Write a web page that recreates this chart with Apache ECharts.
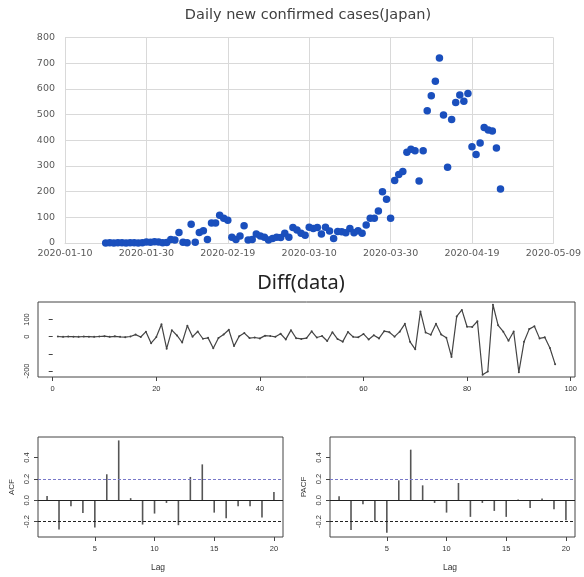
<!DOCTYPE html>
<html>
<head>
<meta charset="utf-8">
<script src="https://cdn.jsdelivr.net/npm/echarts@6.0.0/dist/echarts.min.js"></script>
<style>
  html, body { margin: 0; padding: 0; background: #fff; }
  #main { width: 584px; height: 577px; }
</style>
</head>
<body>
<div id="main"></div>
<script>
// daily new cases, Japan, one value per day from 2020-01-20
var cases = [0, 1, 0, 1, 1, 0, 1, 1, 0, 1,
  4, 3, 5, 4, 1, 2, 14, 12, 41, 3,
  1, 73, 3, 41, 48, 14, 78, 78, 108, 96,
  89, 22, 14, 27, 67, 12, 14, 35, 27, 22,
  12, 18, 22, 21, 38, 22, 60, 51, 38, 30,
  61, 56, 60, 35, 61, 47, 18, 45, 44, 40,
  56, 40, 48, 38, 70, 96, 96, 125, 200, 170,
  96, 243, 267, 278, 353, 365, 359, 241, 359, 515,
  573, 630, 720, 498, 295, 481, 547, 576, 552, 582,
  375, 345, 389, 450, 440, 436, 370, 210];

// first differences as plotted in the middle panel
var diffs = [1, -1, 1, 0, -1, 1, 0, -1, 1, 3,
  -1, 2, -1, -3, 1, 12, -2, 29, -38, -2,
  72, -70, 38, 7, -34, 64, 0, 30, -12, -7,
  -67, -8, 13, 40, -55, 2, 21, -8, -5, -10,
  6, 4, -1, 17, -16, 38, -9, -13, -8, 31,
  -5, 4, -25, 26, -14, -29, 27, -1, -4, 16,
  -16, 8, -10, 32, 26, 0, 29, 75, -30, -74,
  147, 24, 11, 75, 12, -6, -118, 118, 156, 58,
  57, 90, -222, -203, 186, 66, 29, -24, 30, -207,
  -30, 44, 61, -10, -4, -66, -160];

var acf = [0.04, -0.275, -0.056, -0.12, -0.256, 0.244, 0.562, 0.02, -0.228, -0.125,
  -0.025, -0.234, 0.219, 0.337, -0.116, -0.17, -0.056, -0.056, -0.163, 0.078];
var pacf = [0.037, -0.28, -0.037, -0.2, -0.306, 0.187, 0.475, 0.14, -0.025, -0.116,
  0.162, -0.156, -0.025, -0.1, -0.156, 0.006, -0.072, 0.016, -0.084, -0.187];

var dateTicks = ['2020-01-10', '2020-01-30', '2020-02-19', '2020-03-10', '2020-03-30', '2020-04-19', '2020-05-09'];
var firstDay = 10;   // 2020-01-20 is 10 days after 2020-01-10
var ci = 0.2;

var chart = echarts.init(document.getElementById('main'));

var scatterData = cases.map(function (v, i) { return [firstDay + i, v]; });
var diffData = diffs.map(function (v, i) { return [i + 1, v]; });
var acfData = acf.map(function (v, i) { return [i + 1, v]; });
var pacfData = pacf.map(function (v, i) { return [i + 1, v]; });

var rFont = 'Liberation Sans';
var topFont = 'DejaVu Sans';
var frame = '#444';

function rAxisX(grid, min, max, ticks) {
  return {
    type: 'value', gridIndex: grid, min: min, max: max,
    axisLine: { show: false, onZero: false },
    axisTick: { show: true, length: 4, customValues: ticks, lineStyle: { color: frame } },
    axisLabel: { customValues: ticks, fontSize: 7.5, color: '#333', margin: 8, fontFamily: rFont },
    splitLine: { show: false }
  };
}
function rAxisY(grid, min, max, ticks, labels, fmt) {
  return {
    type: 'value', gridIndex: grid, min: min, max: max,
    axisLine: { show: false },
    axisTick: { show: true, length: 4, customValues: ticks, lineStyle: { color: frame } },
    axisLabel: { customValues: labels, fontSize: 7.5, color: '#333', rotate: 90, margin: 7,
      fontFamily: rFont, formatter: fmt },
    splitLine: { show: false }
  };
}
function corrSeries(x, y, data) {
  return {
    type: 'bar', xAxisIndex: x, yAxisIndex: y, data: data, barWidth: 1.6,
    itemStyle: { color: '#555' }, silent: true,
    markLine: {
      silent: true, symbol: 'none', label: { show: false },
      data: [
        { yAxis: 0, lineStyle: { color: '#222', width: 1.2, type: 'solid' } },
        { yAxis: ci, lineStyle: { color: '#7878c8', width: 1, type: [3, 2] } },
        { yAxis: -ci, lineStyle: { color: '#222', width: 1, type: [3, 2] } }
      ]
    }
  };
}
var corrFmt = function (v) { return v.toFixed(1); };

var option = {
  animation: false,
  backgroundColor: '#fff',
  graphic: [
    { type: 'text', x: 308, y: 15, style: { text: 'Daily new confirmed cases(Japan)', fontSize: 14.5,
      fill: '#404040', align: 'center', verticalAlign: 'middle', fontFamily: topFont } },
    { type: 'text', x: 301, y: 283, style: { text: 'Diff(data)', fontSize: 20,
      fill: '#222', align: 'center', verticalAlign: 'middle', fontFamily: 'Noto Sans' } },
    { type: 'text', x: 158, y: 568, style: { text: 'Lag', fontSize: 8.5, fill: '#333',
      align: 'center', verticalAlign: 'middle', fontFamily: rFont } },
    { type: 'text', x: 450, y: 568, style: { text: 'Lag', fontSize: 8.5, fill: '#333',
      align: 'center', verticalAlign: 'middle', fontFamily: rFont } },
    { type: 'text', x: 12, y: 487, rotation: Math.PI / 2, style: { text: 'ACF', fontSize: 8, fill: '#333',
      align: 'center', verticalAlign: 'middle', fontFamily: rFont } },
    { type: 'text', x: 304, y: 487, rotation: Math.PI / 2, style: { text: 'PACF', fontSize: 8, fill: '#333',
      align: 'center', verticalAlign: 'middle', fontFamily: rFont } }
  ],
  grid: [
    { left: 65, top: 37.5, width: 490, height: 205.5, containLabel: false },
    { left: 38, top: 302, width: 537, height: 75, show: true, borderColor: frame, borderWidth: 1 },
    { left: 38, top: 437, width: 245, height: 100, show: true, borderColor: frame, borderWidth: 1 },
    { left: 330, top: 437, width: 245, height: 100, show: true, borderColor: frame, borderWidth: 1 }
  ],
  xAxis: [
    {
      type: 'value', gridIndex: 0, min: 0, max: 120, interval: 20,
      axisLine: { onZero: false, lineStyle: { color: '#d9d9d9' } },
      axisTick: { show: false },
      axisLabel: { fontSize: 9.5, color: '#595959', margin: 6, fontFamily: topFont,
        formatter: function (v) { return dateTicks[Math.round(v / 20)]; } },
      splitLine: { show: true, lineStyle: { color: '#d9d9d9' } }
    },
    rAxisX(1, -2.84, 100.84, [0, 20, 40, 60, 80, 100]),
    rAxisX(2, 0.24, 20.76, [5, 10, 15, 20]),
    rAxisX(3, 0.24, 20.76, [5, 10, 15, 20])
  ],
  yAxis: [
    {
      type: 'value', gridIndex: 0, min: 0, max: 800, interval: 100,
      axisLine: { show: false },
      axisTick: { show: false },
      axisLabel: { fontSize: 9.5, color: '#595959', margin: 10, fontFamily: topFont },
      splitLine: { show: true, lineStyle: { color: '#d9d9d9' } }
    },
    rAxisY(1, -235, 202, [-200, -100, 0, 100], [-200, 0, 100]),
    rAxisY(2, -0.345, 0.594, [-0.2, 0, 0.2, 0.4], [-0.2, 0, 0.2, 0.4], corrFmt),
    rAxisY(3, -0.345, 0.594, [-0.2, 0, 0.2, 0.4], [-0.2, 0, 0.2, 0.4], corrFmt)
  ],
  series: [
    {
      type: 'scatter', xAxisIndex: 0, yAxisIndex: 0, data: scatterData,
      symbolSize: 7.5, itemStyle: { color: '#1a4fbd', opacity: 1 }
    },
    {
      type: 'line', xAxisIndex: 1, yAxisIndex: 1, data: diffData,
      symbol: 'circle', symbolSize: 2, showSymbol: true,
      lineStyle: { color: '#444', width: 1.2 }, itemStyle: { color: '#444' }
    },
    corrSeries(2, 2, acfData),
    corrSeries(3, 3, pacfData)
  ]
};

chart.setOption(option);
</script>
</body>
</html>
